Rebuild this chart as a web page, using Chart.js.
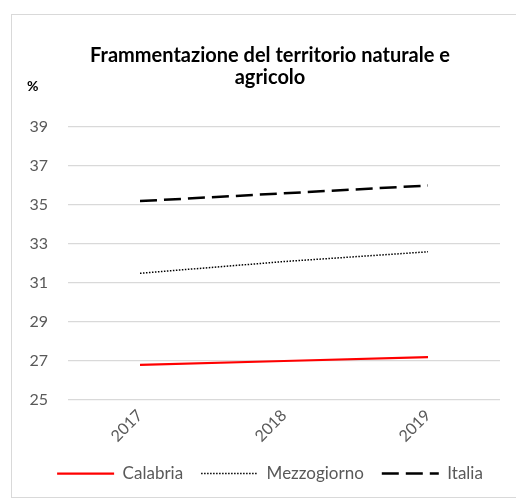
<!DOCTYPE html>
<html>
<head>
<meta charset="utf-8">
<script src="https://cdn.jsdelivr.net/npm/chart.js@4/dist/chart.umd.min.js"></script>
<style>
  body { margin: 0; background: #fff; }
  #wrap { position: relative; width: 516px; height: 498px; }
  #frame { position: absolute; left: 11px; top: 14px; width: 520px; height: 482px; border: 1px solid #d9d9d9; }
  canvas { position: absolute; left: 0; top: 0; }
</style>
</head>
<body>
<div id="wrap">
  <div id="frame"></div>
  <canvas id="chart" width="516" height="498"></canvas>
</div>
<script>
var years = ['2017', '2018', '2019'];
var calabria = [26.8, 27.0, 27.2];
var mezzogiorno = [31.5, 32.1, 32.6];
var italia = [35.2, 35.6, 36.0];
var yTicks = [25, 27, 29, 31, 33, 35, 37, 39];

// "%" unit label above the y axis
var unitLabel = {
    id: 'unitLabel',
    afterDraw: function (chart) {
        var ctx = chart.ctx;
        ctx.save();
        ctx.font = 'bold 14px Lato';
        ctx.fillStyle = '#000';
        ctx.textBaseline = 'middle';
        ctx.fillText('%', 27, 86);
        ctx.restore();
    }
};

new Chart(document.getElementById('chart'), {
    type: 'line',
    data: {
        labels: years,
        datasets: [{
            label: 'Calabria',
            data: calabria,
            borderColor: '#ff0000',
            borderWidth: 2.25,
            pointRadius: 0
        }, {
            label: 'Mezzogiorno',
            data: mezzogiorno,
            borderColor: '#000',
            borderWidth: 1.5,
            borderDash: [1.5, 1.5],
            pointRadius: 0
        }, {
            label: 'Italia',
            data: italia,
            borderColor: '#000',
            borderWidth: 2.5,
            borderDash: [17, 7],
            pointRadius: 0
        }]
    },
    options: {
        responsive: false,
        animation: false,
        layout: { padding: { left: 24, right: 0, top: 0, bottom: 6 } },
        plugins: {
            title: {
                display: true,
                text: ['Frammentazione del territorio naturale e', 'agricolo'],
                color: '#000',
                font: { family: 'Lato', size: 20, weight: 'bold', lineHeight: 1.1 },
                padding: { top: 45, bottom: 38 }
            },
            legend: {
                position: 'bottom',
                labels: {
                    usePointStyle: true,
                    pointStyle: 'line',
                    pointStyleWidth: 57,
                    boxHeight: 16,
                    padding: 18,
                    color: '#595959',
                    font: { family: 'Lato', size: 17 },
                    // take line colour / dash from the datasets, not the (hidden) points
                    generateLabels: function (chart) {
                        var items = Chart.defaults.plugins.legend.labels.generateLabels(chart);
                        items.forEach(function (item) {
                            var ds = chart.data.datasets[item.datasetIndex];
                            item.strokeStyle = ds.borderColor;
                            item.lineWidth = ds.borderWidth;
                            item.lineDash = ds.borderDash || [];
                        });
                        return items;
                    }
                }
            },
            tooltip: { enabled: false }
        },
        scales: {
            x: {
                offset: true,
                afterFit: function (scale) { scale.height = 47; },
                grid: { display: false, drawTicks: false },
                border: { display: false },
                ticks: {
                    color: '#595959',
                    font: { family: 'Lato', size: 16 },
                    minRotation: 45,
                    maxRotation: 45,
                    padding: 6
                }
            },
            y: {
                min: yTicks[0],
                max: yTicks[yTicks.length - 1],
                afterFit: function (scale) { scale.width = 44; },
                afterBuildTicks: function (scale) {
                    scale.ticks = yTicks.map(function (v) { return { value: v }; });
                },
                grid: { color: '#d9d9d9', lineWidth: 1.3, drawTicks: false },
                border: { display: false },
                ticks: {
                    color: '#595959',
                    font: { family: 'Lato', size: 16 },
                    padding: 20
                }
            },
            // empty right-hand spacer so the plot ends where the original does
            y2: {
                position: 'right',
                afterFit: function (scale) { scale.width = 16; },
                grid: { display: false },
                border: { display: false },
                ticks: { display: false }
            }
        }
    },
    plugins: [unitLabel]
});
</script>
</body>
</html>
